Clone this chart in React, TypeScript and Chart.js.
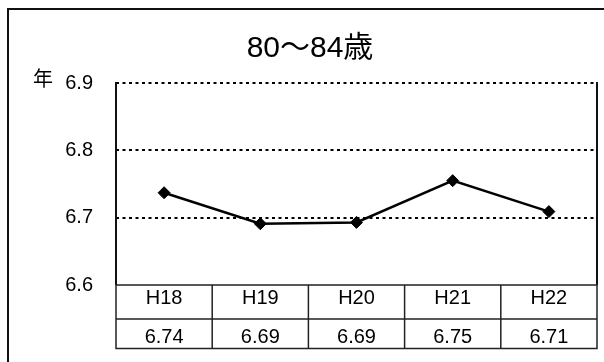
import React, { useEffect, useRef } from "react";
import { Chart, registerables } from "chart.js";

Chart.register(...registerables);

const title = "80〜84歳";
const yUnit = "年";
const categories = ["H18", "H19", "H20", "H21", "H22"];
const values = [6.737, 6.691, 6.693, 6.755, 6.709];
const tableLabels = ["6.74", "6.69", "6.69", "6.75", "6.71"];
const yTicks = [6.6, 6.7, 6.8, 6.9];

const FONT = '"Liberation Sans", Arial, "Noto Sans CJK JP", sans-serif';

const decorPlugin = {
  id: "decor",
  beforeDatasetsDraw(chart: any) {
    const { ctx, chartArea } = chart;
    const y = chart.scales.y;
    ctx.save();
    // dotted grid lines
    ctx.strokeStyle = "#000";
    ctx.lineWidth = 2;
    ctx.setLineDash([3, 3.5]);
    yTicks.forEach((t) => {
      if (t === yTicks[0]) return;
      const py = Math.round(y.getPixelForValue(t));
      ctx.beginPath();
      ctx.moveTo(chartArea.left, py);
      ctx.lineTo(chartArea.right, py);
      ctx.stroke();
    });
    ctx.setLineDash([]);
    // left / right solid borders
    ctx.lineWidth = 2;
    ctx.strokeStyle = "#111";
    ctx.beginPath();
    ctx.moveTo(chartArea.left, chartArea.top - 1);
    ctx.lineTo(chartArea.left, chartArea.bottom);
    ctx.moveTo(chartArea.right, chartArea.top - 1);
    ctx.lineTo(chartArea.right, chartArea.bottom);
    ctx.stroke();
    ctx.restore();
  },
  afterDraw(chart: any) {
    const { ctx, chartArea } = chart;
    const x = chart.scales.x;
    ctx.save();
    // outer frame
    ctx.strokeStyle = "#111";
    ctx.lineWidth = 2;
    ctx.beginPath();
    ctx.moveTo(8, 370);
    ctx.lineTo(8, 9);
    ctx.lineTo(620, 9);
    ctx.stroke();

    // title
    ctx.fillStyle = "#000";
    ctx.font = `30px ${FONT}`;
    ctx.textAlign = "center";
    ctx.textBaseline = "alphabetic";
    ctx.fillText(title, 310, 57);

    // unit label
    ctx.font = `20px ${FONT}`;
    ctx.textAlign = "left";
    ctx.textBaseline = "middle";
    ctx.fillText(yUnit, 33, 80);

    // data table
    const top = chartArea.bottom;
    const mid = top + 34;
    const bot = top + 63.5;
    const n = categories.length;
    const bounds: number[] = [chartArea.left];
    for (let i = 1; i < n; i++) {
      bounds.push((x.getPixelForValue(i - 1) + x.getPixelForValue(i)) / 2);
    }
    bounds.push(chartArea.right);

    ctx.strokeStyle = "#222";
    ctx.lineWidth = 1.5;
    ctx.beginPath();
    [top, mid, bot].forEach((yy) => {
      ctx.moveTo(chartArea.left - 0.75, yy);
      ctx.lineTo(chartArea.right + 0.75, yy);
    });
    bounds.forEach((bx) => {
      ctx.moveTo(bx, top);
      ctx.lineTo(bx, bot);
    });
    ctx.stroke();

    ctx.fillStyle = "#000";
    ctx.font = `20px ${FONT}`;
    ctx.textAlign = "center";
    ctx.textBaseline = "alphabetic";
    categories.forEach((c, i) => {
      const cx = x.getPixelForValue(i);
      ctx.fillText(c, cx, top + 18.5);
      ctx.fillText(tableLabels[i], cx, mid + 24);
    });
    ctx.restore();
  },
};

export default function App() {
  const ref = useRef<HTMLCanvasElement | null>(null);

  useEffect(() => {
    if (!ref.current) return;
    const chart = new Chart(ref.current, {
      type: "line",
      data: {
        labels: categories,
        datasets: [
          {
            data: values,
            borderColor: "#000",
            backgroundColor: "#000",
            borderWidth: 2.5,
            pointStyle: "rectRot",
            pointRadius: 6,
            pointBorderWidth: 1,
            pointBackgroundColor: "#000",
            pointBorderColor: "#000",
            tension: 0,
            fill: false,
          },
        ],
      },
      options: {
        responsive: false,
        animation: false,
        devicePixelRatio: 1,
        layout: { padding: { left: 0, top: 83, right: 6, bottom: 77 } },
        plugins: {
          legend: { display: false },
          tooltip: { enabled: false },
          title: { display: false },
        },
        scales: {
          x: {
            type: "category",
            display: false,
            offset: true,
          },
          y: {
            min: 6.6,
            max: 6.9,
            afterFit: (s: any) => {
              s.width = 116;
            },
            ticks: {
              stepSize: 0.1,
              padding: 23,
              color: "#000",
              font: { size: 20, family: FONT },
              callback: (v: any) => Number(v).toFixed(1),
            },
            grid: { display: false, drawTicks: false },
            border: { display: false },
          },
        },
      },
      plugins: [decorPlugin],
    });
    return () => chart.destroy();
  }, []);

  return (
    <div style={{ position: "absolute", left: 0, top: 0, width: 604, height: 362, background: "#fff" }}>
      <canvas ref={ref} width={604} height={362} style={{ display: "block" }} />
    </div>
  );
}
